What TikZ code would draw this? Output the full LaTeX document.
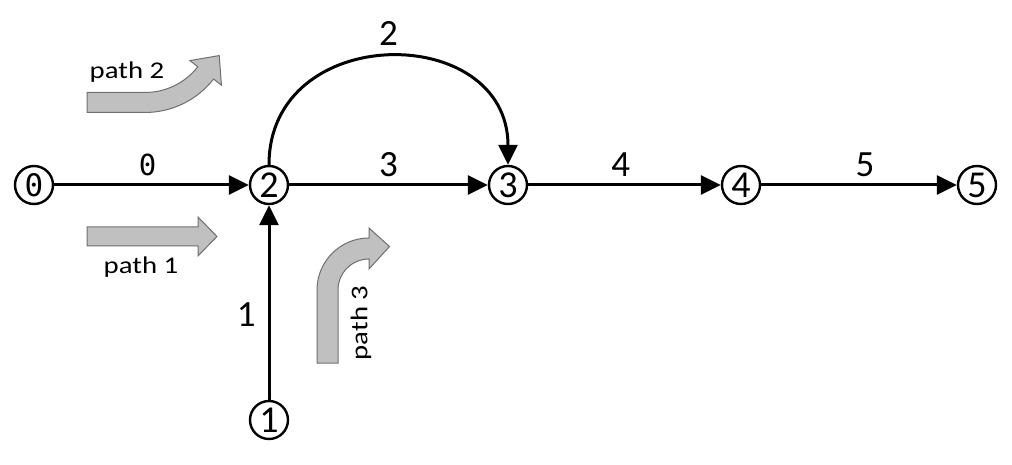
\documentclass[tikz,border=0pt]{standalone}
\usepackage{fontspec}
\setmainfont{Carlito}
\newfontfamily\monofont{DejaVu Sans Mono}
\newfontfamily\pathfont[FakeStretch=1.2]{Carlito}
\usetikzlibrary{arrows.meta}
\definecolor{gfill}{HTML}{C0C0C0}
\definecolor{gline}{HTML}{6F6F6F}
\begin{document}
\begin{tikzpicture}[x=1pt,y=1pt,
  vertex/.style={circle,draw,line width=2.4pt,minimum size=38pt,inner sep=0pt,font=\fontsize{38}{38}\selectfont},
  zerovertex/.style={vertex,font=\monofont\fontsize{31}{31}\selectfont},
  conn/.style={line width=3pt,-{Triangle[length=20pt,width=19pt]}},
  elabel/.style={inner sep=0pt,font=\fontsize{37}{37}\selectfont},
  zlabel/.style={inner sep=0pt,font=\monofont\fontsize{29}{29}\selectfont},
  garrow/.style={fill=gfill,draw=gline,line width=1pt,line join=miter},
  plabel/.style={inner sep=0pt,font=\pathfont\fontsize{24}{24}\selectfont}]
\useasboundingbox (0,0) rectangle (1012,-465);

% grey direction arrows
\draw[garrow] (87,-227) -- (198,-227) -- (198,-217) -- (217,-236.5) -- (198,-256) -- (198,-246) -- (87,-246) -- cycle;
\draw[garrow] (87,-112.5) -- (145,-112.5) arc[start angle=-90,end angle=-38,radius=87]
  -- (221.44,-85.22) -- (219.23,-55.57) -- (189.92,-60.59) -- (197.80,-66.75)
  arc[start angle=-38,end angle=-90,radius=67] -- (87,-92.5) -- cycle;
\draw[garrow] (317,-363) -- (317,-290) arc[start angle=180,end angle=90,radius=52]
  -- (369,-228) -- (389.5,-246.5) -- (369,-269) -- (369,-259)
  arc[start angle=90,end angle=180,radius=31] -- (338,-363) -- cycle;

\node[plabel] (p2) at (127,-72) {path 2};
\node[plabel] (p1) at (141,-267) {path 1};
\node[plabel,rotate=90] (p3) at (361,-323) {path 3};

% vertices
\node[zerovertex] (n0) at (34,-185) {0};
\node[vertex] (n2) at (269,-185) {2};
\node[vertex] (n3) at (508,-185) {3};
\node[vertex] (n4) at (741,-185) {4};
\node[vertex] (n5) at (977,-185) {5};
\node[vertex] (n1) at (269,-420) {1};

% connectors
\draw[conn] (n0) -- node[zlabel,above=8pt,pos=0.48]{0} (n2);
\draw[conn] (n2) -- node[elabel,above=7pt,pos=0.5]{3} (n3);
\draw[conn] (n3) -- node[elabel,above=7pt,pos=0.48]{4} (n4);
\draw[conn] (n4) -- node[elabel,above=7pt,pos=0.53]{5} (n5);
\draw[conn] (n1) -- node[elabel,left=12pt,pos=0.44]{1} (n2);
\draw[conn] (n2) to[out=90,in=90,looseness=1.54] node[elabel,above=10pt,midway]{2} (n3);
\end{tikzpicture}
\end{document}
